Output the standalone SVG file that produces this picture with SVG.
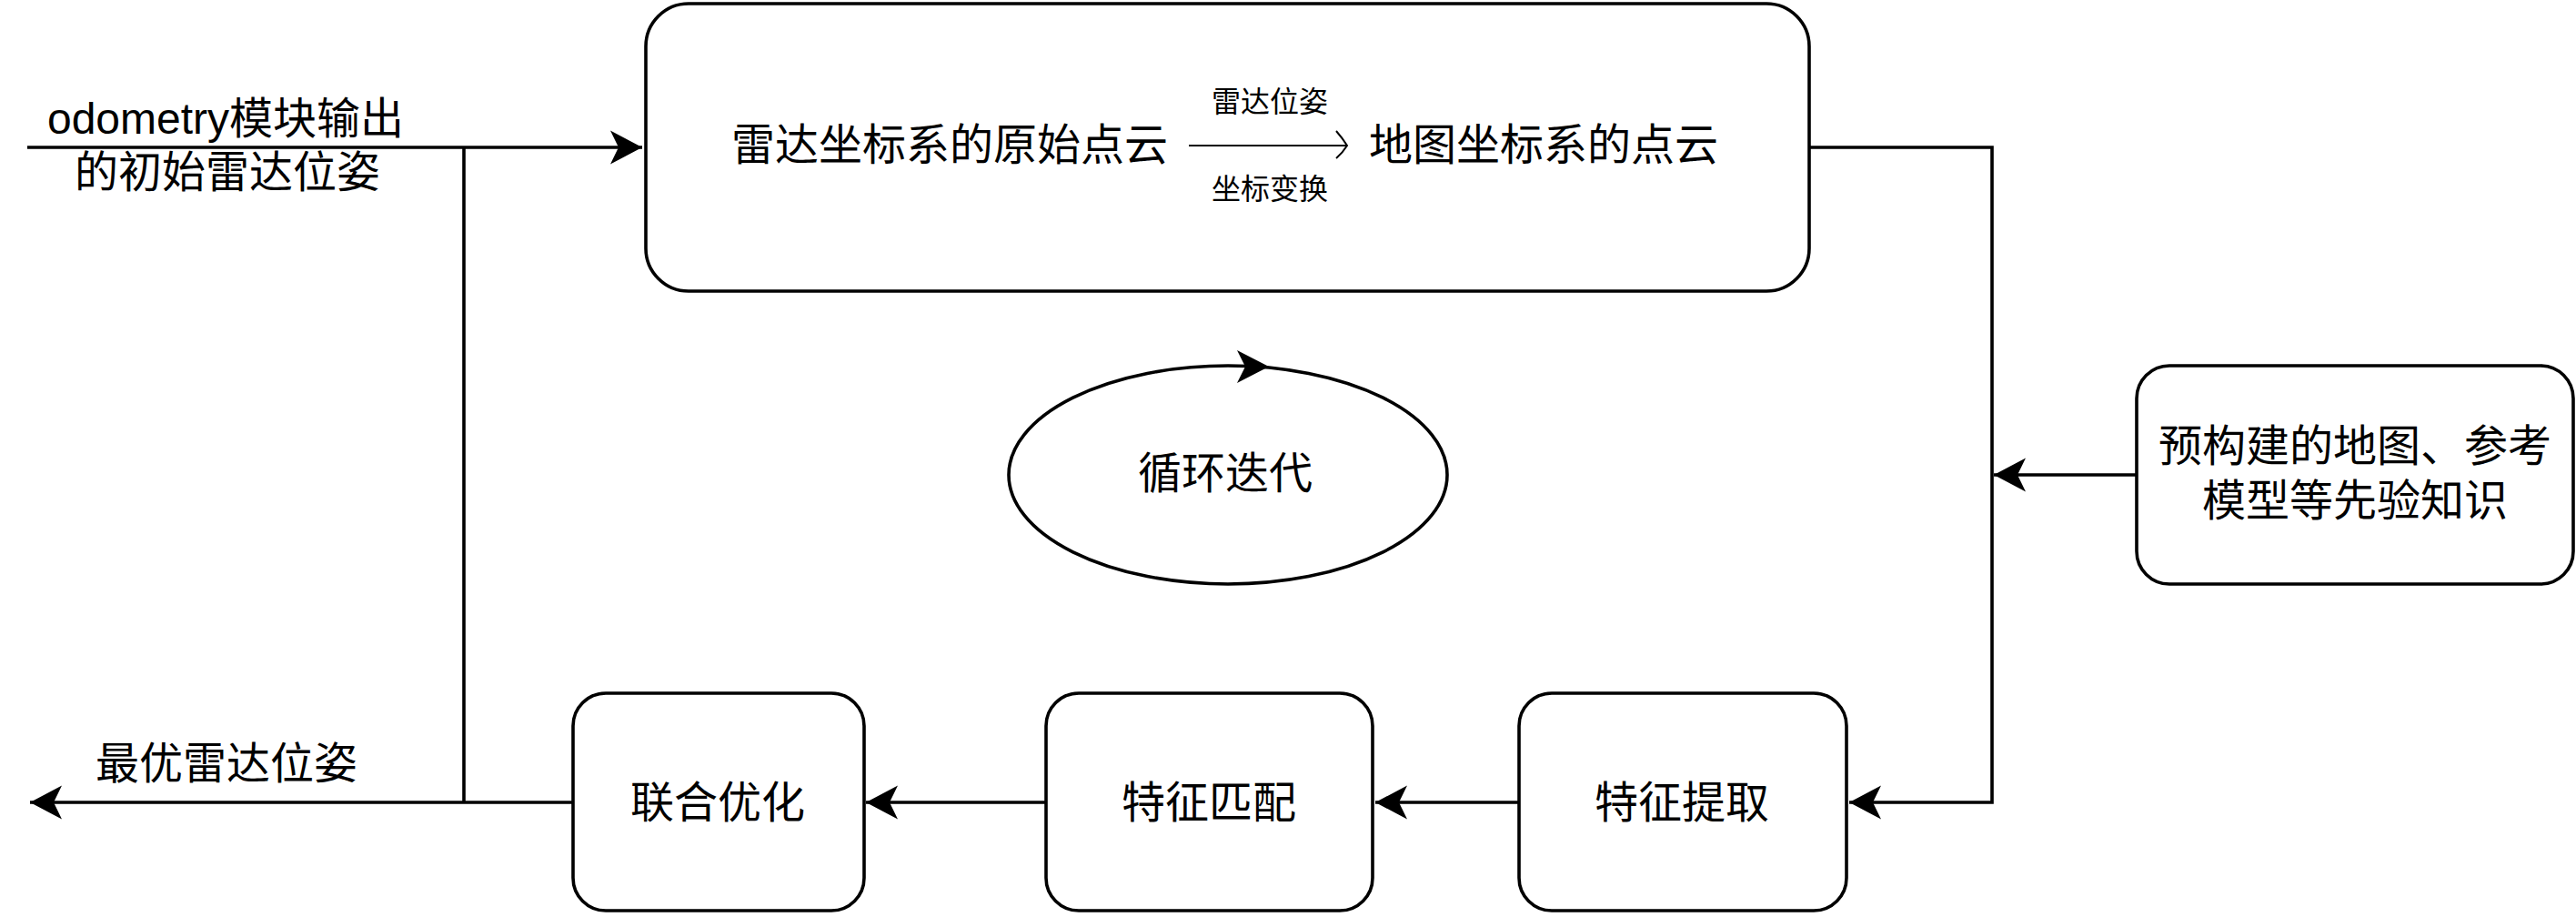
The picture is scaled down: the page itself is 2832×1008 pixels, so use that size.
<svg xmlns="http://www.w3.org/2000/svg" width="2832" height="1008" viewBox="0 0 2832 1008">
<style>
  .box { fill: #ffffff; stroke: #000000; stroke-width: 3.6; }
  .edge { fill: none; stroke: #000000; stroke-width: 3.6; }
  .thin { fill: none; stroke: #000000; stroke-width: 2; }
  .t { font-family: "Liberation Sans", "Noto Sans CJK SC", sans-serif; font-size: 48px; fill: #000000; text-anchor: middle; }
  .s { font-family: "Liberation Sans", "Noto Sans CJK SC", sans-serif; font-size: 32px; fill: #000000; text-anchor: middle; }
</style>
<defs>
  <marker id="arr" markerUnits="userSpaceOnUse" markerWidth="40" markerHeight="40" viewBox="-36 -20 40 40" refX="0" refY="0" orient="auto">
    <path d="M0,0 L-35,-18.5 L-26,0 L-35,18.5 Z" fill="#000000"/>
  </marker>
</defs>
<rect width="2832" height="1008" fill="#ffffff"/>

<g id="connectors">
  <path class="edge" d="M30,162 L706,162" marker-end="url(#arr)"/>
  <path class="edge" d="M510,162 L510,882"/>
  <path class="edge" d="M630,882 L33,882" marker-end="url(#arr)"/>
  <path class="edge" d="M1989,162 L2190,162 L2190,882 L2033,882" marker-end="url(#arr)"/>
  <path class="edge" d="M2349,522 L2192,522" marker-end="url(#arr)"/>
  <path class="edge" d="M1670,882 L1512,882" marker-end="url(#arr)"/>
  <path class="edge" d="M1150,882 L952,882" marker-end="url(#arr)"/>
</g>

<g id="label-odometry">
  <text class="t" x="248" y="147">odometry模块输出</text>
  <text class="t" x="250" y="206">的初始雷达位姿</text>
</g>

<g id="label-best">
  <text class="t" x="249" y="856">最优雷达位姿</text>
</g>

<g id="node-transform">
  <rect class="box" x="710" y="4" width="1279" height="316" rx="47" ry="47"/>
  <text class="t" x="1044" y="176">雷达坐标系的原始点云</text>
  <text class="t" x="1697" y="176">地图坐标系的点云</text>
  <path class="thin" d="M1307,160 L1481,160"/>
  <path class="thin" d="M1469,144 Q1476,152 1481,160 Q1476,168 1469,174"/>
  <text class="s" x="1396" y="123">雷达位姿</text>
  <text class="s" x="1396" y="219">坐标变换</text>
</g>

<g id="node-loop">
  <ellipse class="box" cx="1350" cy="522" rx="241" ry="120"/>
  <path d="M1395,403 L1360,385 L1369,403 L1360,421 Z" fill="#000000"/>
  <text class="t" x="1347" y="537">循环迭代</text>
</g>

<g id="node-prior">
  <rect class="box" x="2349" y="402" width="480" height="240" rx="36" ry="36"/>
  <text class="t" x="2589" y="507">预构建的地图、参考</text>
  <text class="t" x="2589" y="567">模型等先验知识</text>
</g>

<g id="node-optimize">
  <rect class="box" x="630" y="762" width="320" height="239" rx="36" ry="36"/>
  <text class="t" x="789" y="899">联合优化</text>
</g>

<g id="node-match">
  <rect class="box" x="1150" y="762" width="359" height="239" rx="36" ry="36"/>
  <text class="t" x="1329" y="899">特征匹配</text>
</g>

<g id="node-extract">
  <rect class="box" x="1670" y="762" width="360" height="239" rx="36" ry="36"/>
  <text class="t" x="1849" y="899">特征提取</text>
</g>
</svg>
